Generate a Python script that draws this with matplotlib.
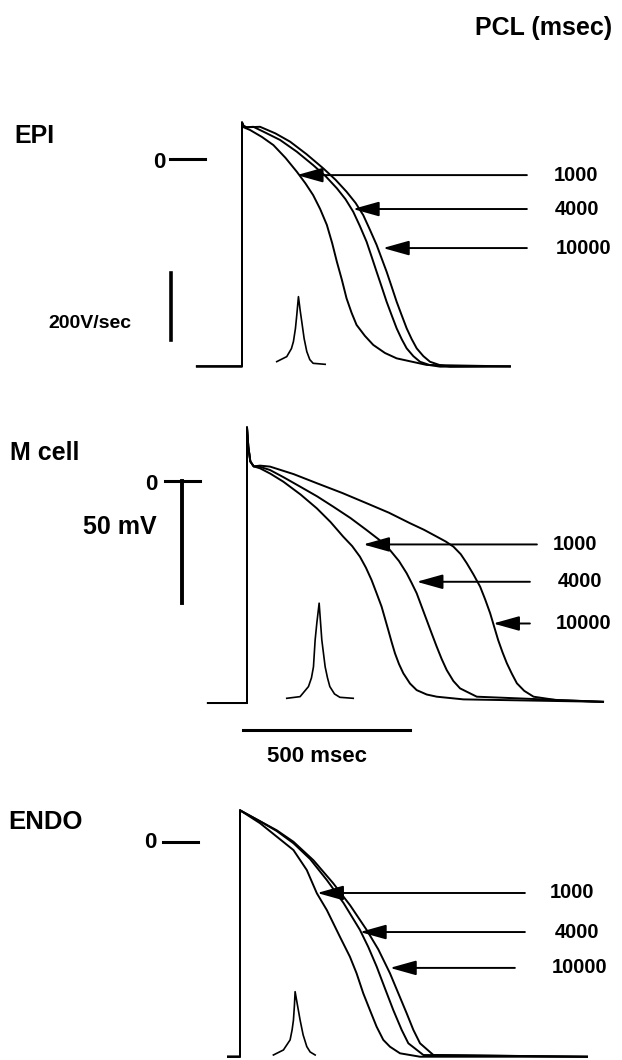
import matplotlib.pyplot as plt

plt.rcParams['font.family'] = ['Liberation Sans', 'DejaVu Sans']
plt.rcParams['font.weight'] = 'bold'

# pacing cycle lengths (msec)
pcl_labels = ['1000', '4000', '10000']

# ---- EPI: time (msec from upstroke), membrane potential (mV) ----
epi_t_1000 = [-135, 0, 0, 5, 24, 60, 94, 130, 164, 190, 213, 234, 254, 270, 284, 299, 313, 328, 343, 368, 393, 428, 463, 553, 802]
epi_v_1000 = [-85, -85, 15, 13, 11.9, 9, 5.7, 0.5, -5.2, -10, -14.8, -20.5, -27, -34.5, -42.1, -49.5, -57.1, -63, -68, -72.5, -76.2, -79.5, -81.7, -84.4, -85]
epi_t_4000 = [-135, 0, 0, 5, 14, 34, 70, 114, 164, 213, 250, 284, 310, 333, 353, 373, 388, 403, 418, 433, 448, 463, 478, 493, 513, 533, 563, 593, 802]
epi_v_4000 = [-85, -85, 15, 13.5, 13, 13.2, 10.8, 7.8, 3, -2.5, -7, -12, -16.5, -21.6, -27.5, -33.9, -40, -46.2, -52.3, -58.5, -64, -69.4, -73.8, -77.6, -80.8, -83.1, -84.5, -85.1, -85]
epi_t_10000 = [-135, 0, 0, 5, 14, 54, 100, 144, 193, 243, 280, 313, 340, 363, 383, 403, 418, 433, 448, 463, 478, 493, 508, 523, 543, 563, 593, 623, 802]
epi_v_10000 = [-85, -85, 15, 13.5, 13, 13.2, 10.5, 7.1, 2, -3.8, -8.5, -13.4, -18, -23, -29, -35.2, -40.7, -46.2, -52.3, -58.5, -64, -69.4, -73.8, -77.6, -80.8, -83.1, -84.5, -85.1, -85]
# dV/dt of the upstroke (V/sec)
epi_dvdt_t = [104, 134, 148, 154, 160, 164, 169, 174, 179, 186, 194, 203, 213, 249]
epi_dvdt_v = [16, 31, 55, 76, 115, 155, 210, 170, 135, 85, 46, 22, 11, 8]

# ---- M cell ----
m_t_1000 = [-117, 0, 0, 4, 10, 20, 39, 70, 109, 160, 209, 250, 288, 315, 338, 356, 373, 388, 403, 413, 423, 433, 443, 455, 468, 488, 508, 538, 568, 648, 1066]
m_v_1000 = [-91, -91, 22, 14, 8, 6, 5.2, 3, -0.3, -5.5, -11.2, -16.8, -22.8, -26.7, -31, -35.5, -40.6, -46, -51.5, -56.3, -61.1, -66, -70.6, -75, -78.8, -83, -85.7, -87.5, -88.4, -89.5, -90.5]
m_t_4000 = [-117, 0, 0, 4, 10, 20, 39, 69, 110, 159, 210, 258, 310, 358, 395, 428, 455, 478, 493, 508, 523, 538, 553, 568, 583, 598, 618, 638, 688, 1066]
m_v_4000 = [-91, -91, 22, 14, 8, 6, 5.8, 4.5, 1.5, -2.3, -6.3, -10.5, -15.2, -20.1, -24, -28.3, -32.8, -37.8, -41.8, -46, -51.5, -57, -62.5, -67.9, -73, -77.5, -82, -85, -88.4, -90.5]
m_t_10000 = [-117, 0, 0, 4, 10, 20, 39, 69, 140, 209, 285, 358, 425, 488, 530, 568, 595, 618, 640, 658, 678, 698, 713, 728, 740, 752, 765, 778, 793, 808, 830, 858, 927, 1066]
m_v_10000 = [-91, -91, 22, 14, 8, 6, 6.3, 5.9, 2.8, -0.9, -4.9, -9.1, -13, -17.3, -20, -22.8, -24.8, -26.9, -30, -33.7, -38.3, -43.3, -48.5, -54.2, -59.7, -65.2, -70.2, -74.7, -79, -82.9, -86, -88.4, -89.8, -90.5]
m_dvdt_t = [119, 159, 184, 193, 199, 204, 209, 216, 224, 234, 241, 248, 262, 278, 318]
m_dvdt_v = [14, 19, 49, 75, 108, 188, 238, 298, 188, 108, 75, 49, 27, 17, 14]

# ---- ENDO ----
endo_t_1000 = [-36, 0, 0, 60, 110, 160, 200, 230, 260, 299, 329, 349, 369, 389, 409, 429, 449, 479, 539, 1039]
endo_v_1000 = [-88, -88, 13, 7.7, 2.2, -3.3, -11.5, -21, -27.9, -38.8, -47, -53.8, -62, -68.9, -75.7, -81.1, -83.9, -86.6, -88, -88]
endo_t_4000 = [-36, 0, 0, 60, 110, 160, 210, 260, 310, 359, 384, 409, 434, 459, 484, 504, 549, 1039]
endo_v_4000 = [-88, -88, 13, 8.5, 4.5, -0.5, -7, -15.6, -25, -36, -43, -51, -60, -68.9, -77, -82.5, -87.3, -88]
endo_t_10000 = [-36, 0, 0, 60, 110, 160, 220, 279, 330, 379, 414, 449, 474, 499, 519, 539, 579, 1039]
endo_v_10000 = [-88, -88, 13, 8.5, 4.8, 0.1, -7.5, -16.9, -26, -36, -44, -53.8, -62, -70.2, -77, -82.5, -87.3, -88]
endo_dvdt_t = [100, 130, 150, 156, 160, 163, 165, 172, 180, 189, 200, 210, 225]
endo_dvdt_v = [6, 21, 51, 81, 110, 155, 195, 155, 110, 66, 31, 15, 6]

W, H = 622, 1060
SX = 0.334   # px per msec
SY = 2.44    # px per mV
SD = 0.335   # px per V/sec

fig = plt.figure(figsize=(W / 100, H / 100), dpi=100)


def panel(x0, y0, yb):
    # full-figure axes, origin (upstroke, 0 mV) at pixel (x0, y0)
    ax = fig.add_axes([0, 0, 1, 1])
    ax.set_xlim(-x0 / SX, (W - x0) / SX)
    ax.set_ylim(-(H - y0) / SY, y0 / SY)
    ax.axis('off')
    axd = ax.twinx()
    axd.set_ylim(-(H - yb) / SD, yb / SD)
    axd.axis('off')
    return ax, axd


def ftext(x, y, s, **kw):
    fig.text(x / W, 1 - y / H, s, fontweight='bold', **kw)


def arrows(ax, vs, tips, tails, label_t):
    for lab, v, tip, tail, lt in zip(pcl_labels, vs, tips, tails, label_t):
        ax.annotate('', xy=(tip, v), xytext=(tail, v),
                    arrowprops=dict(arrowstyle='-|>,head_length=1.0,head_width=0.28',
                                    mutation_scale=16, lw=1.4, color='k',
                                    shrinkA=0, shrinkB=0))
        ax.text(lt, v, lab, ha='center', va='center', fontsize=14.5, fontweight='bold')


lw = 1.4

# EPI
ax, axd = panel(242, 159, 367)
for t, v in [(epi_t_1000, epi_v_1000), (epi_t_4000, epi_v_4000), (epi_t_10000, epi_v_10000)]:
    ax.plot(t, v, color='k', lw=lw)
axd.plot(epi_dvdt_t, epi_dvdt_v, color='k', lw=1.2)
ax.plot([-216, -111], [0, 0], color='k', lw=2.2)
axd.plot([-213, -213], [80, 280], color='k', lw=2.6)
arrows(ax, [-6.6, -20.5, -36.5], [164, 332, 422], [853, 853, 853], [1000, 1003, 1024])

# M cell
ax, axd = panel(247, 481, 703)
for t, v in [(m_t_1000, m_v_1000), (m_t_4000, m_v_4000), (m_t_10000, m_v_10000)]:
    ax.plot(t, v, color='k', lw=lw)
axd.plot(m_dvdt_t, m_dvdt_v, color='k', lw=1.2)
ax.plot([-246, -141], [0, 0], color='k', lw=2.2)
ax.plot([-195, -195], [0, -50], color='k', lw=2.8)
ax.plot([-12, 488], [-102, -102], color='k', lw=2.2)
arrows(ax, [-26, -41.3, -58.4], [348, 508, 737], [868, 847, 847], [982, 997, 1009])

# ENDO
ax, axd = panel(240, 842, 1057)
for t, v in [(endo_t_1000, endo_v_1000), (endo_t_4000, endo_v_4000), (endo_t_10000, endo_v_10000)]:
    ax.plot(t, v, color='k', lw=lw)
axd.plot(endo_dvdt_t, endo_dvdt_v, color='k', lw=1.2)
ax.plot([-231, -126], [0, 0], color='k', lw=2.2)
arrows(ax, [-20.9, -36.9, -51.6], [231, 359, 449], [853, 853, 823], [994, 1009, 1018])

# labels
ftext(612, 28, 'PCL (msec)', ha='right', va='center', fontsize=18)
ftext(14, 136, 'EPI', ha='left', va='center', fontsize=18)
ftext(159, 162, '0', ha='center', va='center', fontsize=16)
ftext(48, 323, '200V/sec', ha='left', va='center', fontsize=14)
ftext(10, 453, 'M cell', ha='left', va='center', fontsize=18)
ftext(158, 484, '0', ha='right', va='center', fontsize=16)
ftext(157, 527, '50 mV', ha='right', va='center', fontsize=18)
ftext(317, 757, '500 msec', ha='center', va='center', fontsize=16)
ftext(8, 822, 'ENDO', ha='left', va='center', fontsize=18.5)
ftext(150, 843, '0', ha='center', va='center', fontsize=16)

fig.savefig('out.png', dpi=100)
